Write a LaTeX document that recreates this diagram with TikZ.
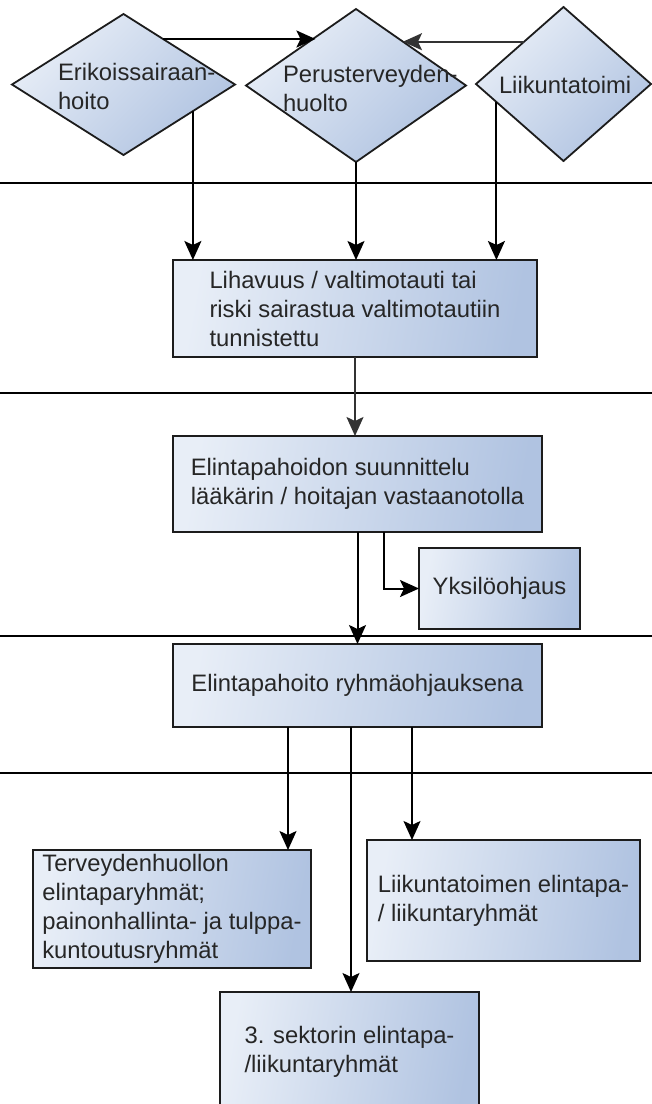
\documentclass[tikz,border=0pt]{standalone}
\usepackage{fontspec}
\setmainfont{Liberation Sans}
\usetikzlibrary{arrows.meta,shapes.geometric}
\definecolor{fillA}{RGB}{232,238,247}
\definecolor{fillB}{RGB}{176,195,225}
\definecolor{edge}{RGB}{28,28,28}
\definecolor{txt}{RGB}{38,38,38}
\begin{document}
\begin{tikzpicture}[x=1pt,y=-1pt,
  every node/.style={outer sep=0pt, inner sep=0pt},
  lbl/.style={font=\fontsize{23.8pt}{29pt}\selectfont, text=txt},
  box/.style={draw=edge, line width=2pt, rectangle, top color=fillA, bottom color=fillB, shading angle=80, lbl, align=left},
  diam/.style={draw=edge, line width=1.8pt, diamond, top color=fillA, bottom color=fillB, shading angle=45},
  arr/.style={draw=black, line width=2pt, -{Stealth[length=19pt,width=17pt,inset=4pt]}},
  divider/.style={draw=black, line width=2pt}]
\useasboundingbox (0,0) rectangle (652,1104);
\clip (0,0) rectangle (652,1104);
\fill[white] (0,0) rectangle (652,1104);
% dividers
\draw[divider] (0,183) -- (652,183);
\draw[divider] (0,393) -- (652,393);
\draw[divider] (0,636) -- (652,636);
\draw[divider] (0,773) -- (652,773);
% diamonds
\node[diam, minimum width=223pt, minimum height=141pt] (d1) at (123.5,84.5) {};
\node[diam, minimum width=220pt, minimum height=153pt] (d2) at (356,85.5) {};
\node[diam, minimum width=175pt, minimum height=154pt] (d3) at (563.5,84) {};
\node[lbl, anchor=north west, align=left] (t1) at (58,63) {Erikoissairaan-\\hoito};
\node[lbl, anchor=north west, align=left] (t2) at (283,65) {Perusterveyden-\\huolto};
\node[lbl, anchor=base west] (t3) at (499,93) {Liikuntatoimi};
% boxes
\node[box, minimum width=364pt, minimum height=97pt] (b1) at (355,308.5) {Lihavuus / valtimotauti tai\\riski sairastua valtimotautiin\\tunnistettu};
\node[box, minimum width=369pt, minimum height=96pt] (b2) at (357.5,484) {Elintapahoidon suunnittelu\\lääkärin / hoitajan vastaanotolla};
\node[box, minimum width=161pt, minimum height=81pt] (yk) at (499.5,588.5) {Yksilöohjaus};
\node[box, minimum width=369pt, minimum height=83pt] (b3) at (357.5,685.5) {Elintapahoito ryhmäohjauksena};
\node[box, minimum width=278pt, minimum height=118pt] (b4) at (172,909) {Terveydenhuollon\\elintaparyhmät;\\painonhallinta- ja tulppa-\\kuntoutusryhmät};
\node[box, minimum width=273pt, minimum height=121pt] (b6) at (503.5,900.5) {Liikuntatoimen elintapa-\\/ liikuntaryhmät};
\node[box, minimum width=259pt, minimum height=120pt] (b5) at (349.5,1052) {3. sektorin elintapa-\\/liikuntaryhmät};
% connectors
\draw[arr] (d1.49.7) -- (d1.49.7 -| d2.130.5);
\draw[arr, draw=black!80] (d3.133.6) -- (d3.133.6 -| d2.43.1);
\draw[arr] (d1.339.6) -- (d1.339.6 |- b1.north);
\draw[arr] (d2.south) -- (d2.south |- b1.north);
\draw[arr] (d3.195) -- (d3.195 |- b1.north);
\draw[arr, draw=black!80] (b1.south) -- (b1.south |- b2.north);
\draw[arr] (b2.south) -- (b2.south |- b3.north);
\draw[arr] ([xshift=26.5pt]b2.south) |- (yk.west);
\draw[arr] ([xshift=-69.5pt]b3.south) -- ([xshift=-69.5pt]b3.south |- b4.north);
\draw[arr] ([xshift=-6.5pt]b3.south) -- ([xshift=-6.5pt]b3.south |- b5.north);
\draw[arr] ([xshift=54.5pt]b3.south) -- ([xshift=54.5pt]b3.south |- b6.north);
\end{tikzpicture}
\end{document}
